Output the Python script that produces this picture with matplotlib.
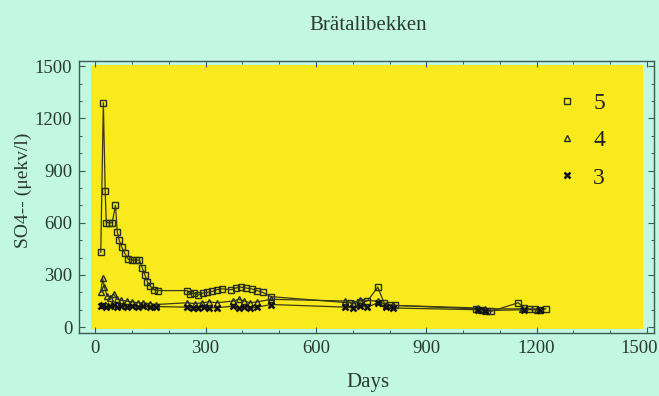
import matplotlib
matplotlib.use("Agg")
import matplotlib.pyplot as plt
import matplotlib.transforms as mtransforms
from matplotlib.patches import Rectangle

title = "Brätalibekken"
xlabel = "Days"
ylabel = "SO4-- (μekv/l)"
xticks = [0, 300, 600, 900, 1200, 1500]
yticks = [0, 300, 600, 900, 1200, 1500]

days5 = [15, 22, 27, 30, 38, 46, 55, 60, 65, 72, 80, 90, 100, 110, 120, 128, 135, 142, 150, 160, 170,
         250, 258, 268, 280, 292, 305, 318, 330, 345, 370, 382, 395, 410, 425, 440, 455, 478,
         690, 705, 720, 740, 768, 785, 800, 815, 1035, 1050, 1065, 1075, 1150, 1165, 1180, 1195, 1210, 1225]
so4_5 = [430, 1290, 780, 600, 600, 600, 700, 545, 500, 460, 425, 390, 385, 385, 385, 340, 300, 260, 235, 215, 210,
         210, 190, 195, 185, 195, 200, 205, 215, 220, 215, 225, 230, 225, 220, 210, 200, 175,
         140, 135, 145, 150, 230, 140, 130, 125, 105, 100, 95, 90, 140, 110, 105, 105, 100, 105]

days4 = [15, 20, 25, 32, 40, 50, 60, 70, 85, 100, 115, 130, 150, 165,
         250, 270, 290, 310, 330, 375, 390, 405, 420, 440, 478,
         680, 700, 720, 768, 790, 810, 1040, 1060, 1160, 1200]
so4_4 = [200, 280, 230, 180, 170, 190, 160, 155, 150, 145, 140, 140, 135, 130,
         140, 135, 140, 145, 140, 150, 160, 150, 140, 145, 160,
         150, 140, 155, 150, 130, 125, 110, 105, 105, 100]

days3 = [15, 22, 30, 40, 50, 60, 70, 85, 100, 115, 130, 150, 165,
         250, 265, 280, 295, 310, 330, 375, 390, 405, 420, 440, 478,
         680, 700, 720, 740, 768, 790, 810, 1040, 1060, 1165, 1210]
so4_3 = [120, 130, 115, 120, 125, 115, 120, 115, 120, 115, 120, 115, 118,
         115, 110, 112, 115, 110, 112, 120, 110, 115, 108, 115, 130,
         115, 110, 120, 115, 140, 115, 110, 100, 95, 100, 100]

mint = "#c2f7e1"
yellow = "#f8ea1c"
ink = "#26301a"
frame = "#3d5a55"
txt = "#2b3a33"

fig = plt.figure(figsize=(6.59, 3.96), dpi=100, facecolor=mint)
ax = fig.add_axes([0.12, 0.159, 0.8724, 0.687])
ax.set_facecolor(mint)
ax.add_patch(Rectangle((0.02, 0.015), 0.961, 0.97, transform=ax.transAxes,
                       facecolor=yellow, edgecolor="none", zorder=0))

lc = "#3a3a18"
ax.plot(days5, so4_5, color=lc, lw=0.9, marker="s", ms=5, mfc="none", mec=ink, mew=1.0, label="5", zorder=3)
ax.plot(days4, so4_4, color=lc, lw=0.9, marker="^", ms=4.5, mfc="none", mec=ink, mew=1.0, label="4", zorder=3)
ax.plot(days3, so4_3, color=lc, lw=0.9, marker="x", ms=5, mec="#111111", mew=1.8, label="3", zorder=3)

ax.set_xlim(-44, 1519)
ax.set_ylim(-34, 1530)
ax.set_xticks(xticks)
ax.set_yticks(yticks)
ax.set_xticks(range(100, 1500, 100), minor=True)
ax.set_yticks(range(100, 1500, 100), minor=True)
ax.tick_params(which="both", direction="in", top=True, right=True, color=frame)
ax.tick_params(which="major", length=4, width=0.8, labelsize=13.5, labelcolor=txt, pad=5)
ax.tick_params(which="minor", length=2.5, width=0.7)
for lab in ax.get_xticklabels() + ax.get_yticklabels():
    lab.set_fontfamily("Liberation Serif")
last = ax.xaxis.get_major_ticks()[-1].label1
last.set_transform(last.get_transform() + mtransforms.ScaledTranslation(-8/100, 0, fig.dpi_scale_trans))
for s in ax.spines.values():
    s.set_color(frame)
    s.set_linewidth(1.0)

fig.text(368/659, 1 - 25/396, title, ha="center", va="center", fontsize=15,
         family="Liberation Serif", color=txt)
fig.text(368/659, 1 - 382/396, xlabel, ha="center", va="center", fontsize=15,
         family="Liberation Serif", color=txt)
fig.text(23/659, 1 - 190/396, ylabel, ha="center", va="center", rotation=90, fontsize=14,
         family="Liberation Serif", color=txt)

leg = ax.legend(loc="upper left", bbox_to_anchor=(0.80, 0.963), frameon=False,
                handlelength=0.6, handletextpad=0.8, labelspacing=0.67,
                prop={"family": "Liberation Serif", "size": 17})
for h in leg.legend_handles:
    h.set_linestyle("none")
for t in leg.get_texts():
    t.set_color("#222222")

fig.savefig("out.png", dpi=100, facecolor=mint)
